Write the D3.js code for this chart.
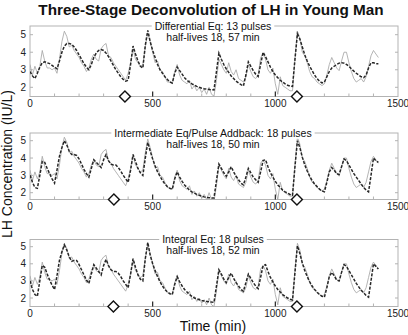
<!DOCTYPE html>
<html><head><meta charset="utf-8">
<script src="https://cdn.jsdelivr.net/npm/d3@7"></script>
<style>body{margin:0;background:#fff}svg{display:block;font-family:"Liberation Sans",Arial,sans-serif}</style>
</head><body><svg id="c" width="408" height="335"></svg>
<script>
const sampleTimes = [0,10,20,30,40,50,60,70,80,90,100,110,120,130,140,150,160,170,180,190,200,210,220,230,240,250,260,270,280,290,300,310,320,330,340,350,360,370,380,390,400,410,420,430,440,450,460,470,480,490,500,510,520,530,540,550,560,570,580,590,600,610,620,630,640,650,660,670,680,690,700,710,720,730,740,750,760,770,780,790,800,810,820,830,840,850,860,870,880,890,900,910,920,930,940,950,960,970,980,990,1000,1010,1020,1030,1040,1050,1060,1070,1080,1090,1100,1110,1120,1130,1140,1150,1160,1170,1180,1190,1200,1210,1220,1230,1240,1250,1260,1270,1280,1290,1300,1310,1320,1330,1340,1350,1360,1370,1380,1390,1400,1410,1420];

const observedLH = [3.3,2.7,3.2,2.8,3.2,4.1,3.5,3.1,3.1,3.0,3.1,2.8,3.6,4.6,5.2,4.9,4.3,4.4,4.1,3.9,3.7,3.4,3.2,2.9,3.1,3.6,3.9,3.6,3.5,4.2,4.4,4.5,3.8,3.7,3.4,3.2,3.0,2.8,2.6,2.4,2.8,3.4,4.2,3.6,3.4,3.2,3.3,4.3,5.1,4.6,4.0,3.4,3.5,3.0,2.9,2.6,2.3,2.3,2.2,2.9,3.3,2.7,2.4,2.3,2.2,2.4,1.9,2.1,1.8,2.0,1.7,1.9,1.6,2.0,1.6,1.5,2.4,3.6,3.3,3.0,2.8,3.4,2.9,2.7,3.0,2.5,2.4,2.3,2.6,3.3,2.9,2.6,2.5,2.7,3.7,3.9,3.6,3.0,2.8,3.1,2.2,1.6,2.6,2.1,2.0,1.9,1.8,1.8,3.6,5.2,4.8,4.0,3.8,3.4,2.9,2.6,2.5,2.3,2.2,2.1,2.2,2.7,3.3,3.7,3.4,3.1,2.95,3.5,4.0,4.0,3.4,2.9,2.5,2.3,2.4,2.5,2.3,2.6,3.2,3.8,4.1,3.9,3.7];

const fitDifferential = [2.9,2.65,2.5,2.8,3.15,3.4,3.45,3.4,3.35,3.25,3.15,3.05,3.5,4.0,4.35,4.5,4.5,4.45,4.3,4.1,3.85,3.6,3.35,3.15,3.0,3.3,3.7,3.95,4.1,4.15,4.1,3.95,3.75,3.5,3.25,3.0,2.8,2.6,2.45,2.35,2.4,3.3,4.35,3.9,3.5,3.2,3.1,4.4,5.25,4.6,4.1,3.7,3.3,3.0,2.8,2.6,2.45,2.3,2.25,2.8,3.15,2.95,2.75,2.55,2.4,2.3,2.2,2.12,2.05,2.0,1.95,1.92,1.9,1.88,1.86,1.85,2.9,3.95,3.6,3.3,3.05,2.85,2.65,2.5,2.35,2.25,2.15,2.08,2.7,3.45,3.2,2.95,2.75,2.62,3.3,4.0,3.75,3.45,3.15,2.9,2.7,2.55,2.4,2.3,2.2,2.12,2.07,2.05,3.6,5.05,4.75,4.3,3.85,3.5,3.2,2.95,2.7,2.5,2.35,2.25,2.3,2.6,2.9,3.1,3.2,3.3,3.38,3.4,3.38,3.3,3.2,3.05,2.92,2.8,2.7,2.6,2.55,2.7,3.1,3.4,3.4,3.35,3.35];

const fitIntermediate = [3.0,2.6,2.3,2.25,3.0,3.8,3.75,3.4,3.1,2.8,2.55,3.3,4.1,4.6,5.0,4.75,4.4,4.2,4.2,4.15,3.95,3.65,3.35,3.1,2.9,3.4,3.9,3.75,3.6,3.45,3.9,4.2,3.85,3.65,3.6,3.6,3.45,3.25,3.0,2.8,2.6,3.3,4.2,3.8,3.4,3.15,3.0,4.0,4.9,4.4,3.95,3.55,3.2,2.95,2.7,2.5,2.35,2.25,2.2,2.8,3.2,2.9,2.65,2.45,2.3,2.15,2.05,1.98,1.9,1.85,1.8,1.76,1.73,1.71,1.7,1.7,2.7,3.65,3.4,3.15,2.95,3.2,3.5,3.2,2.95,2.75,2.55,2.45,2.9,3.4,3.15,2.9,2.75,2.6,3.2,3.85,3.9,3.5,3.15,2.9,2.65,2.45,2.3,2.15,2.05,1.97,1.9,1.85,3.5,5.0,4.6,4.05,3.6,3.25,2.95,2.7,2.5,2.35,2.2,2.1,2.05,2.6,3.2,3.45,3.3,3.1,3.05,3.5,3.95,3.85,3.6,3.35,3.1,2.9,2.7,2.5,2.3,2.15,2.05,3.0,4.0,3.85,3.75];

const fitIntegral = [3.0,2.5,2.2,2.1,3.0,3.9,3.8,3.4,3.05,2.75,2.5,3.3,4.2,4.7,5.1,4.8,4.4,4.15,4.2,4.2,3.95,3.65,3.35,3.05,2.85,3.4,3.95,3.75,3.55,3.35,3.9,4.25,3.9,3.65,3.55,3.55,3.45,3.25,3.0,2.8,2.6,3.4,4.3,3.8,3.35,3.1,3.0,4.3,5.25,4.5,4.0,3.6,3.25,2.95,2.7,2.5,2.35,2.25,2.2,2.8,3.25,2.95,2.7,2.5,2.35,2.2,2.1,2.0,1.95,1.9,1.85,1.82,1.8,1.78,1.76,1.75,2.7,3.65,3.4,3.1,2.9,3.2,3.45,3.15,2.9,2.7,2.5,2.4,2.9,3.4,3.15,2.9,2.7,2.55,3.2,3.9,3.95,3.55,3.2,2.95,2.7,2.5,2.35,2.2,2.1,2.0,1.93,1.88,3.5,5.05,4.6,4.05,3.6,3.25,2.95,2.7,2.5,2.35,2.2,2.1,2.05,2.6,3.25,3.5,3.3,3.05,3.0,3.5,3.95,3.85,3.6,3.35,3.1,2.85,2.65,2.45,2.3,2.15,2.05,3.0,4.0,3.85,3.7];

const panelTitles = ["Differential Eq: 13 pulses","Intermediate Eq/Pulse Addback: 18 pulses","Integral Eq: 18 pulses"];
const panelSubtitles = ["half-lives 18, 57 min","half-lives 18, 50 min","half-lives 18, 52 min"];
const markerTimes = [[387,1088],[342,1088],[340,1088]];
const xTicks = [0,500,1000,1500];
const xMinorTicks = [100,200,300,400,600,700,800,900,1100,1200,1300,1400];
const yTicks = [2,3,4,5];
const mainTitle = "Three-Stage Deconvolution of LH in Young Man";
const yLabel = "LH Concentration (IU/L)";
const xLabel = "Time (min)";

const svg = d3.select("#c");
svg.append("rect").attr("width",408).attr("height",335).attr("fill","#fff");

const left = 30, right = 398;
const x = d3.scaleLinear().domain([0,1500]).range([left,right]);
const layout = [
  {top:26, bottom:96.5, y2:87.3, y5:34.7},
  {top:133, bottom:199.5, y2:192.7, y5:140.7},
  {top:239.5, bottom:306.5, y2:298, y5:246.7}
];
const fits = [fitDifferential, fitIntermediate, fitIntegral];
const frameCol = "#b3b3b3";

svg.append("text").attr("x",211).attr("y",15).attr("text-anchor","middle")
  .attr("font-size",15.3).attr("font-weight","bold").attr("fill","#111").text(mainTitle);

layout.forEach((L,i)=>{
  const y = d3.scaleLinear().domain([2,5]).range([L.y2,L.y5]);
  const g = svg.append("g");
  const cid = "clip"+i;
  svg.append("clipPath").attr("id",cid).append("rect")
    .attr("x",left).attr("y",L.top).attr("width",right-left).attr("height",L.bottom-L.top);
  g.append("rect").attr("x",left).attr("y",L.top).attr("width",right-left).attr("height",L.bottom-L.top)
    .attr("fill","none").attr("stroke",frameCol).attr("stroke-width",1);
  yTicks.forEach(v=>{
    g.append("line").attr("x1",left).attr("x2",left+3).attr("y1",y(v)).attr("y2",y(v)).attr("stroke",frameCol);
    g.append("line").attr("x1",right-3).attr("x2",right).attr("y1",y(v)).attr("y2",y(v)).attr("stroke",frameCol);
    g.append("text").attr("x",left-4).attr("y",y(v)+3.5).attr("text-anchor","end")
      .attr("font-size",10).attr("fill","#222").text(v);
  });
  xMinorTicks.forEach(t=>{
    g.append("line").attr("x1",x(t)).attr("x2",x(t)).attr("y1",L.bottom).attr("y2",L.bottom-3).attr("stroke",frameCol);
  });
  xTicks.forEach(t=>{
    if(t>0 && t<1500) g.append("line").attr("x1",x(t)).attr("x2",x(t)).attr("y1",L.bottom).attr("y2",L.bottom-5)
      .attr("stroke","#222").attr("stroke-width",1.2);
    g.append("text").attr("x",x(t)).attr("y",L.bottom+10.5).attr("text-anchor","middle")
      .attr("font-size",10).attr("fill","#222").text(t);
  });
  const line = d3.line().x((d,k)=>x(sampleTimes[k])).y(d=>y(d));
  g.append("path").attr("d",line(observedLH)).attr("fill","none").attr("stroke","#a6a6a6")
    .attr("stroke-width",0.85).attr("clip-path",`url(#${cid})`);
  g.append("path").attr("d",line(fits[i])).attr("fill","none").attr("stroke","#262626")
    .attr("stroke-width",1.5).attr("stroke-dasharray","3,1.5").attr("clip-path",`url(#${cid})`);
  const t1 = g.append("text").attr("x",213).attr("y",L.top+3.8).attr("text-anchor","middle")
    .attr("font-size",10.5).attr("fill","#111").text(panelTitles[i]);
  const bb = t1.node().getBBox();
  g.insert("rect", function(){return t1.node();}).attr("x",bb.x-3).attr("y",bb.y).attr("width",bb.width+6).attr("height",bb.height)
    .attr("fill","#fff");
  g.append("text").attr("x",213).attr("y",L.top+14.5).attr("text-anchor","middle")
    .attr("font-size",10.5).attr("fill","#111").text(panelSubtitles[i]);
  markerTimes[i].forEach(t=>{
    g.append("path").attr("d",d3.symbol().type(d3.symbolSquare).size(60)())
      .attr("transform",`translate(${x(t)},${L.bottom}) rotate(45)`)
      .attr("fill","#fff").attr("stroke","#111").attr("stroke-width",1.4);
  });
});

svg.append("text").attr("transform","translate(11.5,164) rotate(-90)").attr("text-anchor","middle")
  .attr("font-size",14).attr("fill","#111").text(yLabel);
svg.append("text").attr("x",213).attr("y",331).attr("text-anchor","middle")
  .attr("font-size",14).attr("fill","#111").text(xLabel);
</script></body></html>
